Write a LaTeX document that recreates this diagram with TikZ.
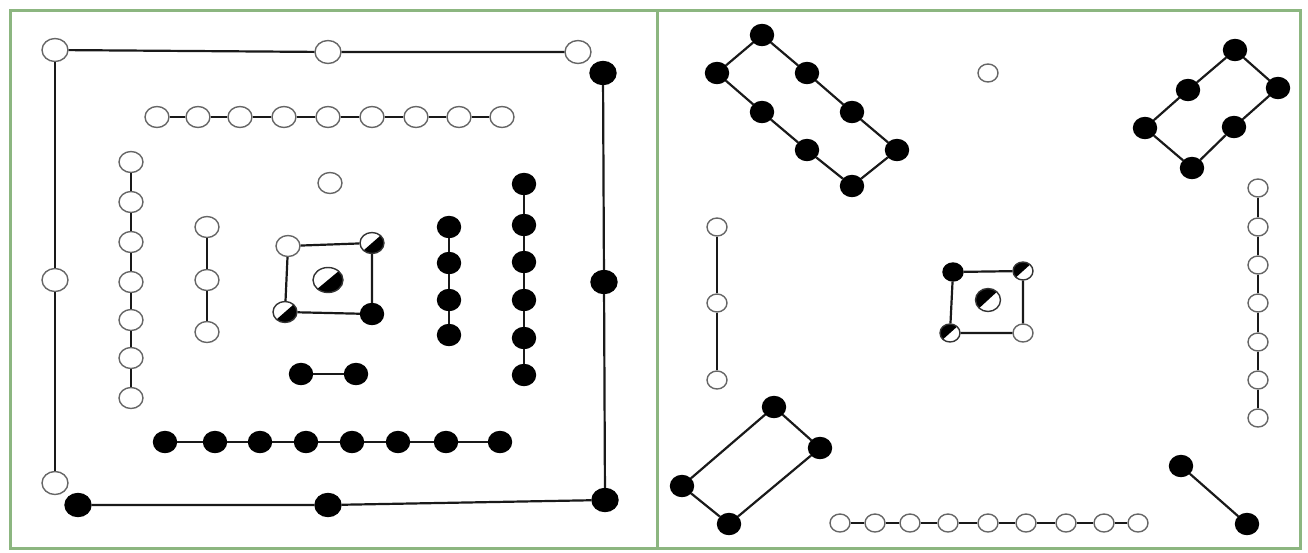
\documentclass[tikz,border=0pt]{standalone}
\usepackage{xcolor}
\usepackage{tikz}
\usetikzlibrary{shapes,positioning,calc}
\definecolor{frm}{RGB}{140,182,128}

\begin{document}
\begin{tikzpicture}[x=1pt, y=-1pt,
    every node/.style={ellipse, inner sep=0pt, line width=1.4pt},
    opn/.style={draw=black!60, fill=white, minimum width=24pt, minimum height=21pt},
    blk/.style={draw=black, fill=black, minimum width=23pt, minimum height=21pt},
    big/.style={minimum width=26pt, minimum height=23pt},
    sml/.style={minimum width=20pt, minimum height=18pt},
    ctr/.style={minimum width=30pt, minimum height=25pt},
    halfa/.style={opn, draw=black!80, path picture={\fill[black] (path picture bounding box.south west) -- (path picture bounding box.south east) -- (path picture bounding box.north east) -- cycle;}},
    halfb/.style={opn, draw=black!80, path picture={\fill[black] (path picture bounding box.south west) -- (path picture bounding box.north west) -- (path picture bounding box.north east) -- cycle;}},
    link/.style={line width=2.2pt, black!90}]
    \useasboundingbox (0,0) rectangle (1308,552);
    \draw[frm, line width=3pt] (10,10) rectangle (1300,548);
    \draw[frm, line width=3pt] (657,10) -- (657,548);

    % left panel, outer ring
    \node[opn,big] (o1) at (55,50) {};
    \node[opn,big] (o2) at (328,52) {};
    \node[opn,big] (o3) at (578,52) {};
    \node[opn,big] (o4) at (55,280) {};
    \node[opn,big] (o5) at (55,483) {};
    \node[blk,big] (f1) at (603,73) {};
    \node[blk,big] (f2) at (604,282) {};
    \node[blk,big] (f3) at (605,500) {};
    \node[blk,big] (f4) at (78,505) {};
    \node[blk,big] (f5) at (328,505) {};
    \draw[link] (o1) -- (o2) -- (o3);
    \draw[link] (o1) -- (o4) -- (o5);
    \draw[link] (f1) -- (f2) -- (f3);
    \draw[link] (f4) -- (f5) -- (f3);

    % left panel, second ring
    \foreach \x [count=\i] in {157,198,240,284,328,372,416,459,502}
        \node[opn] (t\i) at (\x,117) {};
    \foreach \y [count=\i] in {162,202,242,282,320,358,398}
        \node[opn] (l\i) at (131,\y) {};
    \foreach \x [count=\i] in {165,215,260,306,352,398,446,500}
        \node[blk] (b\i) at (\x,442) {};
    \foreach \y [count=\i] in {184,225,262,300,338,375}
        \node[blk] (r\i) at (524,\y) {};
    \foreach \i [count=\j from 2] in {1,...,8} \draw[link] (t\i) -- (t\j);
    \foreach \i [count=\j from 2] in {1,...,6} \draw[link] (l\i) -- (l\j);
    \foreach \i [count=\j from 2] in {1,...,7} \draw[link] (b\i) -- (b\j);
    \foreach \i [count=\j from 2] in {1,...,5} \draw[link] (r\i) -- (r\j);

    % left panel, inner ring
    \node[opn] (c0) at (330,183) {};
    \foreach \y [count=\i] in {227,280,332}
        \node[opn] (v\i) at (207,\y) {};
    \foreach \y [count=\i] in {227,263,300,335}
        \node[blk] (w\i) at (449,\y) {};
    \node[blk] (p1) at (301,374) {};
    \node[blk] (p2) at (356,374) {};
    \draw[link] (v1) -- (v2) -- (v3);
    \draw[link] (w1) -- (w2) -- (w3) -- (w4);
    \draw[link] (p1) -- (p2);

    % left panel, centre
    \node[opn] (q1) at (288,246) {};
    \node[halfa] (q2) at (372,243) {};
    \node[halfa] (q3) at (285,312) {};
    \node[blk] (q4) at (372,314) {};
    \node[halfa,ctr] (qc) at (328,280) {};
    \draw[link] (q1) -- (q2) -- (q4) -- (q3) -- (q1);

    % right panel, top left block
    \node[blk] (k1) at (762,35) {};
    \node[blk] (k2) at (717,73) {};
    \node[blk] (k3) at (807,73) {};
    \node[blk] (k4) at (762,112) {};
    \node[blk] (k5) at (852,112) {};
    \node[blk] (k6) at (807,150) {};
    \node[blk] (k7) at (897,150) {};
    \node[blk] (k8) at (852,186) {};
    \draw[link] (k2) -- (k1) -- (k3) -- (k5) -- (k7) -- (k8);
    \draw[link] (k2) -- (k4) -- (k6) -- (k8);

    \node[opn,sml] (n0) at (988,73) {};

    % right panel, top right block
    \node[blk] (s1) at (1235,50) {};
    \node[blk] (s2) at (1278,88) {};
    \node[blk] (s3) at (1188,90) {};
    \node[blk] (s4) at (1234,127) {};
    \node[blk] (s5) at (1145,128) {};
    \node[blk] (s6) at (1192,168) {};
    \draw[link] (s5) -- (s3) -- (s1) -- (s2) -- (s4) -- (s6) -- (s5);

    % right panel, chains
    \foreach \y [count=\i] in {227,303,380}
        \node[opn,sml] (u\i) at (717,\y) {};
    \draw[link] (u1) -- (u2) -- (u3);
    \foreach \y [count=\i] in {188,227,265,303,342,380,418}
        \node[opn,sml] (z\i) at (1258,\y) {};
    \foreach \i [count=\j from 2] in {1,...,6} \draw[link] (z\i) -- (z\j);
    \foreach \x [count=\i] in {840,875,910,948,988,1026,1066,1104,1138}
        \node[opn,sml] (h\i) at (\x,523) {};
    \foreach \i [count=\j from 2] in {1,...,8} \draw[link] (h\i) -- (h\j);

    % right panel, centre
    \node[blk,sml] (m1) at (953,272) {};
    \node[halfb,sml] (m2) at (1023,271) {};
    \node[halfb,sml] (m3) at (950,333) {};
    \node[opn,sml] (m4) at (1023,333) {};
    \node[halfb,minimum width=25pt,minimum height=23pt] (mc) at (988,300) {};
    \draw[link] (m1) -- (m2) -- (m4) -- (m3) -- (m1);

    % right panel, bottom
    \node[blk] (g1) at (774,407) {};
    \node[blk] (g2) at (820,448) {};
    \node[blk] (g3) at (682,486) {};
    \node[blk] (g4) at (729,524) {};
    \draw[link] (g3) -- (g1) -- (g2) -- (g4) -- (g3);
    \node[blk] (e1) at (1181,466) {};
    \node[blk] (e2) at (1247,524) {};
    \draw[link] (e1) -- (e2);
\end{tikzpicture}
\end{document}
